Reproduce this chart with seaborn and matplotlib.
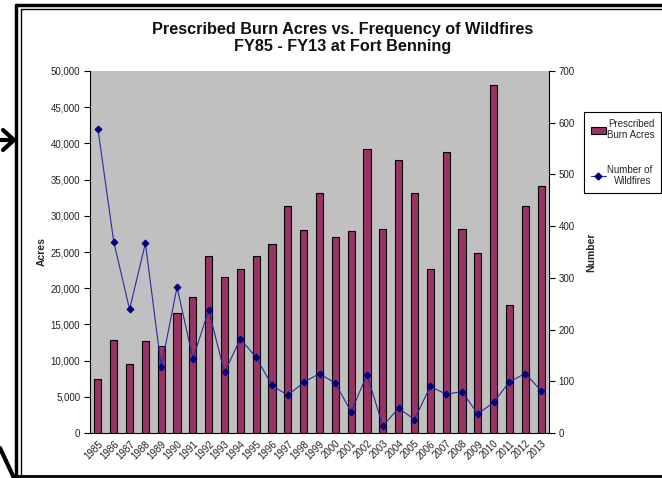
import numpy as np
import pandas as pd
import matplotlib
matplotlib.use("Agg")
import matplotlib.pyplot as plt
from matplotlib.lines import Line2D
from matplotlib.patches import Patch
import seaborn as sns

years = [str(y) for y in range(1985, 2014)]
burn_acres = [7500, 12850, 9500, 12700, 12000, 16600, 18800, 24400, 21600, 22600,
              24400, 26100, 31400, 28000, 33100, 27100, 27900, 39200, 28200, 37700,
              33200, 22600, 38800, 28200, 24800, 48100, 17700, 31400, 34100]
wildfires = [588, 370, 239, 367, 128, 282, 144, 237, 117, 182,
             146, 92, 73, 98, 115, 96, 41, 113, 14, 48,
             26, 90, 75, 80, 37, 59, 99, 115, 82]

title = "Prescribed Burn Acres vs. Frequency of Wildfires\nFY85 - FY13 at Fort Benning"

sns.set_theme(style="white")
plt.rcParams['font.family'] = ['Liberation Sans', 'DejaVu Sans']

df = pd.DataFrame({"year": years, "acres": burn_acres, "fires": wildfires})
pos = np.arange(len(years))

fig = plt.figure(figsize=(6.62, 4.78), dpi=100)
W, H = 662, 478
ax = fig.add_axes([90 / W, 1 - 433 / H, (549 - 90) / W, (433 - 71) / H])
ax.set_facecolor('#C0C0C0')

sns.barplot(data=df, x="year", y="acres", color='#993366', saturation=1,
            edgecolor='black', linewidth=0.8, width=0.45, ax=ax)
ax.set_ylim(0, 50000)
ax.set_xlim(-0.5, len(years) - 0.5)
ax.set_yticks(np.arange(0, 50001, 5000))
ax.set_yticklabels([f"{v:,}" for v in range(0, 50001, 5000)], fontsize=7, color='#222222')
ax.set_xticks(pos)
ax.set_xticklabels(years, rotation=45, ha='right', rotation_mode='anchor', fontsize=7, color='#222222')
ax.set_xticks(np.arange(-0.5, len(years)), minor=True)
ax.tick_params(axis='x', which='major', length=0, pad=4)
ax.tick_params(axis='x', which='minor', length=4, width=0.8, color='black', direction='out')
ax.tick_params(axis='y', length=4, width=0.8, color='black', direction='out', pad=3)
ax.set_xlabel("")
ax.set_ylabel("Acres", fontsize=7.5, fontweight='bold', labelpad=3)
for s in ['top', 'right']:
    ax.spines[s].set_visible(False)
for s in ['left', 'bottom']:
    ax.spines[s].set_color('black')
    ax.spines[s].set_linewidth(0.8)

ax2 = ax.twinx()
sns.lineplot(x=pos, y=df["fires"].values, ax=ax2, color='#2a2a9a', linewidth=0.8,
             marker='D', markersize=3.5, markerfacecolor='#000080', markeredgecolor='#000080')
ax2.set_ylim(0, 700)
ax2.set_xlim(-0.5, len(years) - 0.5)
ax2.set_yticks(np.arange(0, 701, 100))
ax2.set_yticklabels([str(v) for v in range(0, 701, 100)], fontsize=7, color='#222222')
ax2.tick_params(axis='y', length=4, width=0.8, color='black', direction='out', pad=3)
ax2.set_ylabel("Number", fontsize=7.5, fontweight='bold', labelpad=8)
for s in ['top', 'left', 'bottom']:
    ax2.spines[s].set_visible(False)
ax2.spines['right'].set_color('black')
ax2.spines['right'].set_linewidth(0.8)

handles = [Patch(facecolor='#993366', edgecolor='black', linewidth=0.8),
           Line2D([0], [0], color='#2a2a9a', linewidth=0.8, marker='D', markersize=3.5,
                  markerfacecolor='#000080', markeredgecolor='#000080')]
leg = fig.legend(handles, ["Prescribed\nBurn Acres", "Number of\nWildfires"],
                 loc='upper right', bbox_to_anchor=(661 / W, 1 - 112 / H),
                 borderaxespad=0, fontsize=7, frameon=True, fancybox=False, framealpha=1,
                 edgecolor='black', handlelength=1.6, handletextpad=0.05,
                 labelspacing=2.5, borderpad=0.7)
leg.get_frame().set_linewidth(0.8)
for t in leg.get_texts():
    t.set_ha('right')

fig.text(343 / W, 1 - 38 / H, title, ha='center', va='center', fontsize=11.7,
         fontweight='bold', linespacing=1.2, color='#111111')

# frame around the figure
fig.add_artist(Line2D([16 / W, 16 / W], [0, 1 - 5 / H], transform=fig.transFigure, color='black', lw=2.5))
fig.add_artist(Line2D([21 / W, 21 / W], [1 - 476 / H, 1 - 9 / H], transform=fig.transFigure, color='black', lw=1))
fig.add_artist(Line2D([16 / W, 1], [1 - 5 / H, 1 - 5 / H], transform=fig.transFigure, color='black', lw=2.5))
fig.add_artist(Line2D([21 / W, 1], [1 - 9 / H, 1 - 9 / H], transform=fig.transFigure, color='black', lw=1))
fig.add_artist(Line2D([16 / W, 1], [1 - 476 / H, 1 - 476 / H], transform=fig.transFigure, color='black', lw=2))
# arrow and stroke at left edge
fig.add_artist(Line2D([0, 14 / W], [1 - 140 / H, 1 - 140 / H], transform=fig.transFigure, color='black', lw=3))
fig.add_artist(Line2D([3 / W, 14 / W, 3 / W], [1 - 130 / H, 1 - 140 / H, 1 - 150 / H],
                      transform=fig.transFigure, color='black', lw=3))
fig.add_artist(Line2D([0, 14 / W], [1 - 448 / H, 1 - 478 / H], transform=fig.transFigure, color='black', lw=3))

fig.savefig("out.png", dpi=100, facecolor='white')
